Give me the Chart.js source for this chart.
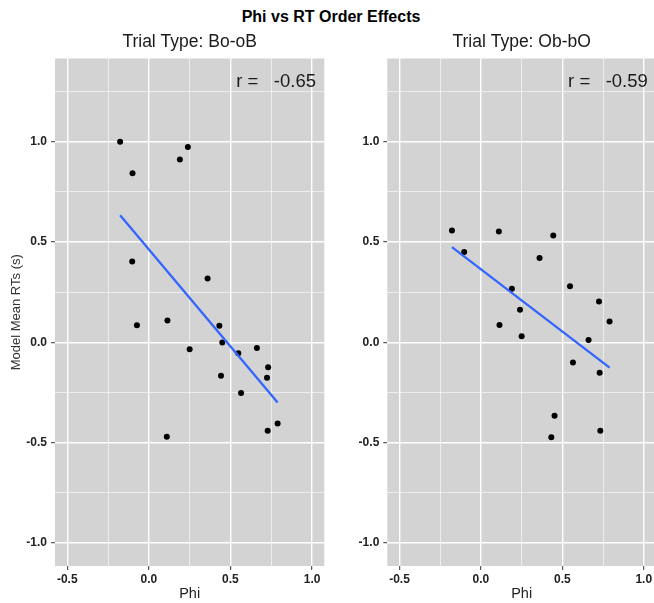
<!DOCTYPE html>
<html><head><meta charset="utf-8">
<script src="https://cdn.jsdelivr.net/npm/chart.js@4.4.1/dist/chart.umd.min.js"></script>
<style>
html,body{margin:0;padding:0;background:#fff;width:654px;height:603px;overflow:hidden;position:relative;}
#title{position:absolute;left:0;width:662px;top:7px;text-align:center;font:bold 16px "Liberation Sans",Arial,sans-serif;color:#000;line-height:20px;}
.wrap{position:absolute;top:0;height:603px;width:330px;}
#w1{left:0}
#w2{left:330px}
</style></head><body>
<div id="title">Phi vs RT Order Effects</div>
<div class="wrap" id="w1"><canvas id="c1"></canvas></div>
<div class="wrap" id="w2"><canvas id="c2"></canvas></div>
<script>
const panelTitles = ['Trial Type: Bo-oB', 'Trial Type: Ob-bO'];
const rLabels = ['r =   -0.65', 'r =   -0.59'];
const xTicks = [-0.5, -0.25, 0, 0.25, 0.5, 0.75, 1.0];
const yTicks = [-1.0, -0.75, -0.5, -0.25, 0, 0.25, 0.5, 0.75, 1.0, 1.25];

const phiBo = [-0.176, -0.10, 0.239, 0.19, -0.102, 0.36, -0.073, 0.114, 0.432, 0.45, 0.25, 0.548, 0.662, 0.731, 0.724, 0.442, 0.565, 0.11, 0.728, 0.789];
const rtBo  = [1.0, 0.843, 0.974, 0.912, 0.403, 0.318, 0.085, 0.109, 0.083, -0.001, -0.035, -0.055, -0.028, -0.124, -0.177, -0.167, -0.252, -0.471, -0.441, -0.405];
const fitBoPhi = [-0.176, 0.789];
const fitBoRT  = [0.634, -0.30];

const phiOb = [-0.178, -0.103, 0.11, 0.444, 0.36, 0.19, 0.547, 0.725, 0.79, 0.24, 0.114, 0.25, 0.661, 0.565, 0.729, 0.452, 0.432, 0.733];
const rtOb  = [0.557, 0.45, 0.552, 0.532, 0.42, 0.267, 0.279, 0.204, 0.104, 0.163, 0.087, 0.03, 0.012, -0.10, -0.151, -0.366, -0.473, -0.441];
const fitObPhi = [-0.178, 0.79];
const fitObRT  = [0.475, -0.126];

const FONT = '"Liberation Sans", Arial, Helvetica, sans-serif';
const isMajor = v => Math.abs(v * 2 - Math.round(v * 2)) < 1e-9;

const bgPlugin = {
  id: 'panelBg',
  beforeDraw(chart) {
    const {ctx, chartArea: a} = chart;
    ctx.save();
    ctx.fillStyle = '#D3D3D3';
    ctx.fillRect(a.left, a.top, a.right - a.left, a.bottom - a.top);
    ctx.restore();
  }
};
const panelTitlePlugin = {
  id: 'panelTitle',
  afterDraw(chart, args, opts) {
    const {ctx, chartArea: a} = chart;
    ctx.save();
    ctx.font = '17.5px ' + FONT;
    ctx.fillStyle = '#1a1a1a';
    ctx.textAlign = 'center';
    ctx.textBaseline = 'middle';
    ctx.fillText(opts.text, (a.left + a.right) / 2, a.top - 16.2);
    ctx.restore();
  }
};
const rPlugin = {
  id: 'rLabel',
  afterDatasetsDraw(chart, args, opts) {
    const {ctx, scales: {x, y}} = chart;
    ctx.save();
    ctx.font = '18.5px ' + FONT;
    ctx.fillStyle = '#1a1a1a';
    ctx.textAlign = 'center';
    ctx.textBaseline = 'middle';
    ctx.fillText(opts.text, x.getPixelForValue(opts.x), y.getPixelForValue(opts.y));
    ctx.restore();
  }
};

function gridOpts() {
  return {
    color: '#FFFFFF',
    lineWidth: c => (c.tick && isMajor(c.tick.value)) ? 1.4 : 0.6,
    tickColor: c => (c.tick && isMajor(c.tick.value)) ? '#333333' : 'rgba(0,0,0,0)',
    tickWidth: 1,
    tickLength: 4,
    drawTicks: true
  };
}
function tickOpts(pad) {
  return {
    autoSkip: false, maxRotation: 0, minRotation: 0, padding: pad,
    color: '#222',
    font: {family: FONT, size: 12, weight: 'bold', lineHeight: 1.2},
    callback: v => isMajor(v) ? Number(v).toFixed(1) : ''
  };
}

function makeChart(id, phi, rt, fitPhi, fitRT, title, rText, yAxisW, padRight, showYTitle) {
  return new Chart(document.getElementById(id), {
    type: 'scatter',
    data: {
      datasets: [
        {
          type: 'line',
          data: fitPhi.map((x, i) => ({x: x, y: fitRT[i]})),
          borderColor: '#3366FF', borderWidth: 2.3, pointRadius: 0,
          fill: false, tension: 0, order: 0
        },
        {
          data: phi.map((x, i) => ({x: x, y: rt[i]})),
          backgroundColor: '#000000', borderWidth: 0, pointRadius: 3,
          order: 1
        }
      ]
    },
    options: {
      responsive: true, maintainAspectRatio: false, animation: false,
      devicePixelRatio: 1,
      events: [],
      layout: {padding: {top: 58.5, right: padRight, bottom: 0, left: 0}},
      plugins: {
        legend: {display: false},
        tooltip: {enabled: false},
        title: {display: false},
        panelTitle: {text: title},
        rLabel: {text: rText, x: 0.78, y: 1.3}
      },
      scales: {
        x: {
          type: 'linear', position: 'bottom', min: -0.575, max: 1.075,
          afterBuildTicks: s => { s.ticks = xTicks.map(v => ({value: v})); },
          afterFit: s => { s.height = 37; },
          grid: gridOpts(),
          border: {display: false},
          ticks: tickOpts(2),
          title: {display: true, text: 'Phi', color: '#222',
                  font: {family: FONT, size: 14.5, weight: 'normal', lineHeight: 1.2},
                  padding: {top: 0, bottom: 0}}
        },
        y: {
          type: 'linear', position: 'left', min: -1.115, max: 1.415,
          afterBuildTicks: s => { s.ticks = yTicks.map(v => ({value: v})); },
          afterFit: s => { s.width = yAxisW; },
          grid: gridOpts(),
          border: {display: false},
          ticks: tickOpts(4),
          title: {display: showYTitle, text: 'Model Mean RTs (s)', color: '#333',
                  font: {family: FONT, size: 13, weight: 'normal', lineHeight: 1.2},
                  padding: {top: 9, bottom: 0}}
        }
      }
    },
    plugins: [bgPlugin, rPlugin, panelTitlePlugin]
  });
}

makeChart('c1', phiBo, rtBo, fitBoPhi, fitBoRT, panelTitles[0], rLabels[0], 55, 5.7, true);
makeChart('c2', phiOb, rtOb, fitObPhi, fitObRT, panelTitles[1], rLabels[1], 57.3, 3.4, false);
</script>
</body></html>
